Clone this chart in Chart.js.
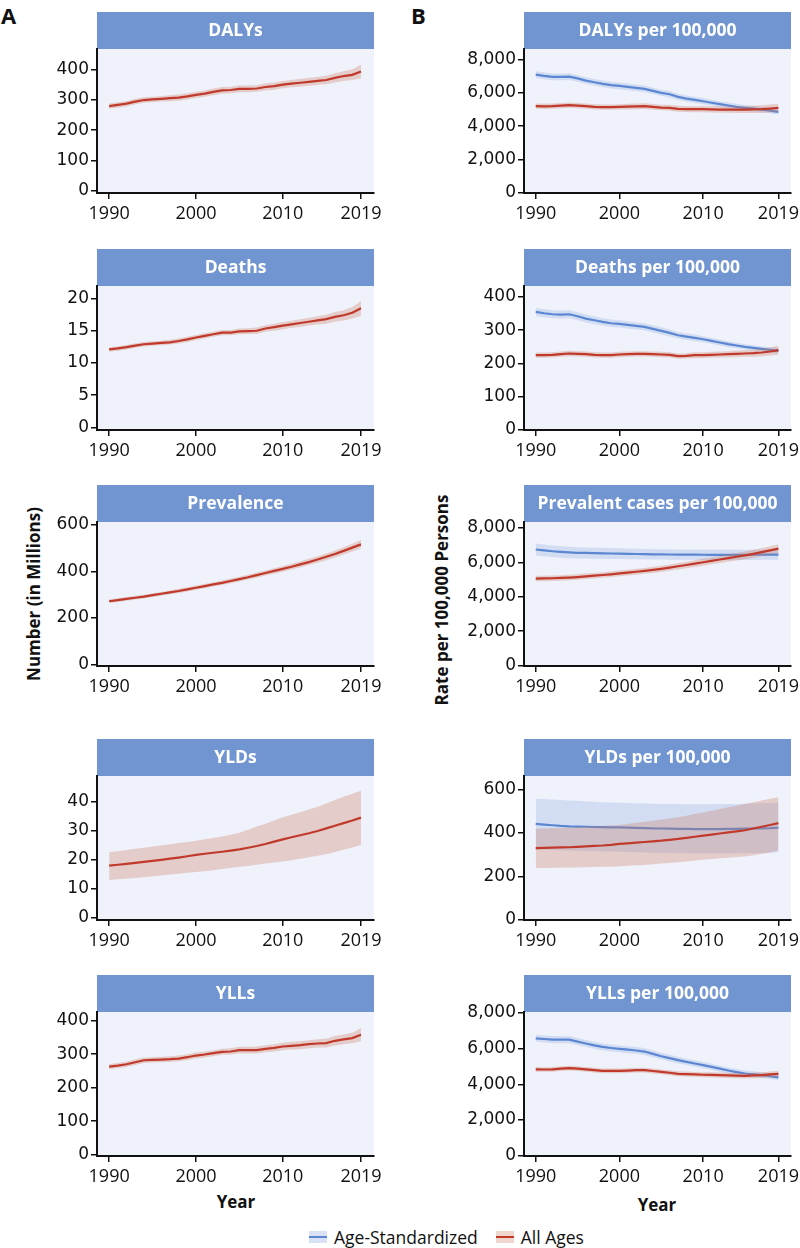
<!DOCTYPE html>
<html>
<head>
<meta charset="utf-8">
<title>Burden trends 1990-2019</title>
<script src="https://cdn.jsdelivr.net/npm/chart.js@4.4.0/dist/chart.umd.min.js"></script>
<style>
  body { margin: 0; background: #fff; font-family: "Open Sans", sans-serif; color: #111; }
  #page { position: relative; width: 800px; height: 1248px; overflow: hidden; }
  #page canvas { position: absolute; }
  .tag { position: absolute; font-weight: bold; font-size: 22px; line-height: 1; }
  .ytitle { position: absolute; font-weight: bold; font-size: 17px; white-space: nowrap;
            transform: translate(-50%, -50%) rotate(-90deg); }
  .xtitle { position: absolute; font-weight: bold; font-size: 17px; transform: translate(-50%, -50%); }
  .legend { position: absolute; top: 1225px; left: 309px; display: flex; align-items: center; font-size: 17.5px; }
  .legend .sw { width: 18px; height: 12px; position: relative; margin-right: 7px; }
  .legend .sw i { position: absolute; left: 0; right: 0; top: 5px; height: 2px; }
  .legend span.item { display: flex; align-items: center; margin-right: 18px; }
</style>
</head>
<body>
<div id="page">
  <div class="tag" style="left:1px; top:4px;">A</div>
  <div class="tag" style="left:411px; top:4px;">B</div>
  <div class="ytitle" style="left:33px; top:594px;">Number (in Millions)</div>
  <div class="ytitle" style="left:441px; top:600px;">Rate per 100,000 Persons</div>
  <div class="xtitle" style="left:236px; top:1201px;">Year</div>
  <div class="xtitle" style="left:657px; top:1204px;">Year</div>
  <div class="legend">
    <span class="item"><span class="sw" style="background:#d9e1f4"><i style="background:#5b86d1"></i></span>Age-Standardized</span>
    <span class="item"><span class="sw" style="background:#efd6cf"><i style="background:#c0392b"></i></span>All Ages</span>
  </div>
</div>
<script>
// years on the x axis
const years = [1990,1991,1992,1993,1994,1995,1996,1997,1998,1999,2000,2001,2002,2003,2004,
               2005,2006,2007,2008,2009,2010,2011,2012,2013,2014,2015,2016,2017,2018,2019];
const xTicks = [1990, 2000, 2010, 2019];

// Panel A - counts, all ages (millions)
const dalysMean = [279,283,287,294,299,301,303,305,307,311,316,320,326,331,332,336,336,337,342,345,350,353,356,359,362,365,372,378,382,393];
const dalysLo   = [270,274,278,285,290,292,294,295,297,301,306,310,315,320,321,325,325,326,330,333,338,341,343,346,349,351,357,362,365,371];
const dalysHi   = [288,292,296,303,308,310,312,315,317,321,326,330,337,342,343,347,347,348,354,357,362,365,369,372,375,379,387,394,400,415];

const deathsMean = [12.1,12.25,12.45,12.7,12.9,13.0,13.1,13.2,13.4,13.65,13.95,14.2,14.45,14.7,14.7,14.9,14.95,15.0,15.35,15.55,15.8,16.0,16.2,16.4,16.6,16.8,17.15,17.4,17.8,18.5];
const deathsLo   = [11.75,11.9,12.1,12.35,12.55,12.65,12.75,12.85,13.0,13.25,13.55,13.8,14.05,14.3,14.3,14.45,14.5,14.5,14.85,15.0,15.25,15.45,15.6,15.8,15.95,16.1,16.4,16.6,16.9,17.3];
const deathsHi   = [12.45,12.6,12.8,13.05,13.25,13.35,13.45,13.6,13.8,14.05,14.35,14.6,14.85,15.1,15.1,15.35,15.4,15.5,15.85,16.1,16.35,16.55,16.8,17.0,17.25,17.5,17.9,18.2,18.7,19.6];

const prevMean = [272,277,282,287,292,298,304,310,316,323,330,337,344,351,359,367,375,384,393,402,411,420,430,440,451,463,475,488,502,516];
const prevLo   = [264,269,274,279,284,290,296,302,307,314,321,328,335,342,349,357,365,373,382,390,399,408,417,427,437,448,460,472,485,498];
const prevHi   = [280,285,290,295,300,306,312,318,325,332,339,346,353,361,369,377,386,395,404,414,423,433,443,454,465,477,490,504,519,535];

const yldsMean = [17.9,18.2,18.5,18.85,19.2,19.55,19.9,20.3,20.7,21.15,21.6,22.0,22.35,22.7,23.1,23.5,24.1,24.7,25.4,26.2,27.0,27.7,28.4,29.1,29.9,30.8,31.7,32.6,33.5,34.5];
const yldsLo   = [12.9,13.2,13.4,13.6,13.9,14.2,14.5,14.8,15.1,15.4,15.7,16.0,16.3,16.7,17.1,17.5,17.8,18.2,18.6,19.0,19.3,19.8,20.3,20.8,21.3,21.8,22.6,23.4,24.2,25.0];
const yldsHi   = [22.5,22.9,23.3,23.7,24.1,24.5,24.9,25.3,25.7,26.1,26.5,27.0,27.5,28.0,28.6,29.3,30.3,31.4,32.4,33.5,34.6,35.5,36.4,37.3,38.3,39.4,40.6,41.7,42.8,43.8];

const yllsMean = [263,266,270,276,282,283,284,285,287,291,296,299,303,307,308,312,312,312,316,319,323,325,327,330,332,333,340,344,348,358];
const yllsLo   = [255,258,262,268,274,275,276,277,279,282,287,290,294,298,299,302,302,302,306,308,312,314,315,318,320,320,326,330,333,339];
const yllsHi   = [271,274,278,284,290,291,292,294,296,300,305,308,312,316,318,322,322,323,327,330,334,337,339,342,345,347,354,359,364,378];

// Panel B - rates per 100,000 (age-standardized and all ages)
const dalysRateAsMean  = [7100,7020,6960,6960,6980,6870,6740,6640,6540,6470,6420,6360,6300,6240,6120,6000,5920,5760,5660,5580,5500,5410,5320,5240,5160,5100,5050,5000,4930,4860];
const dalysRateAsLo    = [6900,6820,6760,6760,6780,6670,6540,6440,6340,6270,6220,6160,6100,6040,5930,5810,5730,5570,5470,5390,5310,5230,5140,5060,4980,4930,4880,4830,4770,4700];
const dalysRateAsHi    = [7300,7220,7160,7160,7180,7070,6940,6840,6740,6670,6620,6560,6500,6440,6310,6190,6110,5950,5850,5770,5690,5590,5500,5420,5340,5270,5220,5170,5090,5020];
const dalysRateAllMean = [5200,5190,5200,5240,5260,5240,5200,5160,5140,5140,5160,5170,5190,5200,5160,5120,5100,5040,5030,5020,5020,5010,5000,5000,4990,5000,5010,5020,5060,5100];
const dalysRateAllLo   = [5040,5030,5040,5080,5100,5080,5040,5000,4980,4980,5000,5000,5020,5030,4990,4950,4920,4860,4850,4840,4830,4820,4810,4800,4790,4790,4790,4790,4820,4850];
const dalysRateAllHi   = [5360,5350,5360,5400,5420,5400,5360,5320,5300,5300,5320,5340,5360,5370,5330,5290,5280,5220,5210,5200,5210,5200,5190,5200,5190,5210,5230,5250,5300,5350];

const deathsRateAsMean  = [355,351,348,347,348,342,335,330,325,321,319,316,313,310,304,298,292,285,281,277,273,268,263,258,254,250,247,244,241,238];
const deathsRateAsLo    = [343,339,336,335,336,330,323,318,314,310,308,305,302,299,293,287,282,275,271,267,264,259,254,249,246,242,239,236,233,229];
const deathsRateAsHi    = [367,363,360,359,360,354,347,342,336,332,330,327,324,321,315,309,302,295,291,287,282,277,272,267,262,258,255,252,249,247];
const deathsRateAllMean = [225,225,226,228,230,229,228,226,225,225,227,228,229,229,228,227,226,222,223,225,225,226,227,228,229,230,231,233,236,240];
const deathsRateAllLo   = [217,217,218,220,222,221,220,218,217,217,219,220,221,221,220,219,218,214,215,216,216,217,218,219,219,220,220,222,224,227];
const deathsRateAllHi   = [233,233,234,236,238,237,236,234,233,233,235,236,237,237,236,235,234,230,231,234,234,235,236,237,239,240,242,244,248,253];

const prevRateAsMean  = [6750,6700,6650,6610,6580,6560,6550,6540,6530,6520,6510,6500,6490,6480,6470,6465,6460,6455,6450,6450,6445,6440,6440,6440,6440,6440,6445,6450,6450,6455];
const prevRateAsLo    = [6400,6355,6310,6275,6250,6235,6228,6220,6213,6205,6198,6190,6182,6175,6168,6164,6160,6156,6152,6152,6148,6145,6145,6145,6145,6145,6148,6150,6150,6152];
const prevRateAsHi    = [7100,7045,6990,6945,6910,6885,6872,6860,6847,6835,6822,6810,6798,6785,6772,6766,6760,6754,6748,6748,6742,6735,6735,6735,6735,6735,6742,6750,6750,6758];
const prevRateAllMean = [5060,5070,5080,5100,5120,5150,5190,5230,5270,5310,5360,5410,5460,5510,5570,5630,5700,5780,5850,5930,6010,6090,6170,6250,6330,6410,6500,6600,6700,6800];
const prevRateAllLo   = [4900,4910,4920,4940,4960,4990,5030,5070,5110,5150,5190,5240,5290,5340,5390,5450,5520,5590,5660,5740,5810,5890,5960,6040,6110,6190,6270,6370,6460,6550];
const prevRateAllHi   = [5220,5230,5240,5260,5280,5310,5350,5390,5430,5470,5530,5580,5630,5680,5750,5810,5880,5970,6040,6120,6210,6290,6380,6460,6550,6630,6730,6830,6940,7050];

const yldsRateAsMean  = [441,438,435,432,430,429,428,427,426,425,425,424,423,422,421,420,419,418,418,417,417,417,417,418,418,419,420,421,422,424];
const yldsRateAsLo    = [323,322,321,320,319,318,317,316,315,314,313,312,311,310,309,308,307,306,306,305,305,305,305,305,306,306,307,308,309,311];
const yldsRateAsHi    = [556,555,553,551,549,547,545,543,541,539,538,537,536,535,534,533,532,532,531,531,531,531,532,532,533,534,535,536,537,539];
const yldsRateAllMean = [330,331,332,333,334,336,338,340,342,345,349,352,355,358,361,364,368,372,377,382,387,392,397,402,407,412,420,428,436,445];
const yldsRateAllLo   = [239,239,240,240,241,241,242,243,244,245,247,249,251,253,256,259,262,265,269,273,277,280,283,286,289,292,297,303,310,320];
const yldsRateAllHi   = [419,420,421,422,424,426,428,430,432,434,436,441,446,451,456,461,466,472,479,486,493,501,509,517,525,533,541,548,556,563];

const yllsRateAsMean  = [6585,6545,6510,6505,6510,6400,6290,6190,6100,6040,5990,5945,5900,5840,5710,5580,5470,5360,5260,5170,5080,4985,4880,4780,4690,4610,4565,4520,4455,4390];
const yllsRateAsLo    = [6385,6345,6310,6305,6310,6200,6095,5995,5905,5845,5795,5750,5705,5645,5520,5390,5285,5175,5080,4990,4900,4810,4710,4610,4520,4445,4400,4360,4295,4230];
const yllsRateAsHi    = [6785,6745,6710,6705,6710,6600,6485,6385,6295,6235,6185,6140,6095,6035,5900,5770,5655,5545,5440,5350,5260,5160,5050,4950,4860,4775,4730,4680,4615,4550];
const yllsRateAllMean = [4840,4835,4840,4880,4910,4880,4840,4800,4760,4755,4760,4775,4800,4800,4750,4705,4650,4590,4575,4560,4540,4530,4515,4500,4490,4480,4500,4520,4555,4590];
const yllsRateAllLo   = [4710,4705,4710,4750,4780,4750,4710,4670,4630,4625,4630,4640,4665,4665,4615,4570,4510,4450,4435,4420,4400,4385,4370,4355,4340,4330,4345,4360,4390,4420];
const yllsRateAllHi   = [4970,4965,4970,5010,5040,5010,4970,4930,4890,4885,4890,4910,4935,4935,4885,4840,4790,4730,4715,4700,4680,4675,4660,4645,4640,4630,4655,4680,4720,4760];

// y tick labels
const ticksDalys  = [0, 100, 200, 300, 400];
const ticksDeaths = [0, 5, 10, 15, 20];
const ticksPrev   = [0, 200, 400, 600];
const ticksYlds   = [0, 10, 20, 30, 40];
const ticksRate8k = [0, 2000, 4000, 6000, 8000];
const ticksRate400 = [0, 100, 200, 300, 400];
const ticksRate600 = [0, 200, 400, 600];

// colours
const RED = '#c0392b';
const RED_BAND = 'rgba(205, 125, 105, 0.32)';
const BLUE = '#5b86d1';
const BLUE_BAND = 'rgba(110, 145, 220, 0.22)';
const HEADER_BG = '#7195d0';
const PLOT_BG = '#eff2fa';
const FONT = '"Open Sans", sans-serif';
const TICK_FONT_Y = '"DejaVu Sans", sans-serif';

// layout (canvas may run past the page edge, the page clips it)
const HEADER_H = 37;
const X_AXIS_H = 34;
const COLS = [
    { canvasLeft: 40, plotLeft: 97, plotRight: 374, padRight: 18 },
    { canvasLeft: 450, plotLeft: 524, plotRight: 791, padRight: 18 }
];
const ROWS = [
    { plotTop: 49, plotBottom: 193 },
    { plotTop: 286, plotBottom: 430 },
    { plotTop: 522, plotBottom: 666 },
    { plotTop: 776, plotBottom: 920 },
    { plotTop: 1012, plotBottom: 1156 }
];

function pts(arr) {
    return arr.map(function(v, i) { return { x: years[i], y: v }; });
}

// three datasets: lower bound, upper bound filled to lower, mean line
function series(lo, hi, mean, line, band, baseOrder) {
    return [
        { data: pts(mean), borderColor: line, borderWidth: 2.2, pointRadius: 0, fill: false, order: baseOrder },
        { data: pts(lo), borderWidth: 0, pointRadius: 0, fill: false, order: baseOrder + 2 },
        { data: pts(hi), borderWidth: 0, pointRadius: 0, backgroundColor: band, fill: '-1', order: baseOrder + 1 }
    ];
}

const panels = [
    { col: 0, row: 0, title: 'DALYs', ticks: ticksDalys, min: -7, max: 467,
      sets: series(dalysLo, dalysHi, dalysMean, RED, RED_BAND, 0) },
    { col: 0, row: 1, title: 'Deaths', ticks: ticksDeaths, min: -0.42, max: 21.95,
      sets: series(deathsLo, deathsHi, deathsMean, RED, RED_BAND, 0) },
    { col: 0, row: 2, title: 'Prevalence', ticks: ticksPrev, min: -6, max: 612,
      sets: series(prevLo, prevHi, prevMean, RED, RED_BAND, 0) },
    { col: 0, row: 3, title: 'YLDs', ticks: ticksYlds, min: -0.9, max: 48.9,
      sets: series(yldsLo, yldsHi, yldsMean, RED, RED_BAND, 0) },
    { col: 0, row: 4, title: 'YLLs', ticks: ticksDalys, min: -4, max: 426,
      sets: series(yllsLo, yllsHi, yllsMean, RED, RED_BAND, 0) },

    { col: 1, row: 0, title: 'DALYs per 100,000', ticks: ticksRate8k, min: -20, max: 8640,
      sets: series(dalysRateAllLo, dalysRateAllHi, dalysRateAllMean, RED, RED_BAND, 0)
          .concat(series(dalysRateAsLo, dalysRateAsHi, dalysRateAsMean, BLUE, BLUE_BAND, 3)) },
    { col: 1, row: 1, title: 'Deaths per 100,000', ticks: ticksRate400, min: 0, max: 433,
      sets: series(deathsRateAllLo, deathsRateAllHi, deathsRateAllMean, RED, RED_BAND, 0)
          .concat(series(deathsRateAsLo, deathsRateAsHi, deathsRateAsMean, BLUE, BLUE_BAND, 3)) },
    { col: 1, row: 2, title: 'Prevalent cases per 100,000', ticks: ticksRate8k, min: -20, max: 8350,
      sets: series(prevRateAllLo, prevRateAllHi, prevRateAllMean, RED, RED_BAND, 0)
          .concat(series(prevRateAsLo, prevRateAsHi, prevRateAsMean, BLUE, BLUE_BAND, 3)) },
    { col: 1, row: 3, title: 'YLDs per 100,000', ticks: ticksRate600, min: 0, max: 661,
      sets: series(yldsRateAllLo, yldsRateAllHi, yldsRateAllMean, RED, RED_BAND, 0)
          .concat(series(yldsRateAsLo, yldsRateAsHi, yldsRateAsMean, BLUE, BLUE_BAND, 3)) },
    { col: 1, row: 4, title: 'YLLs per 100,000', ticks: ticksRate8k, min: -20, max: 8060,
      sets: series(yllsRateAllLo, yllsRateAllHi, yllsRateAllMean, RED, RED_BAND, 0)
          .concat(series(yllsRateAsLo, yllsRateAsHi, yllsRateAsMean, BLUE, BLUE_BAND, 3)) }
];

// plot background + blue title strip above each panel
const panelFrame = {
    id: 'panelFrame',
    beforeDraw: function(chart, args, opts) {
        const a = chart.chartArea;
        const ctx = chart.ctx;
        ctx.save();
        ctx.fillStyle = PLOT_BG;
        ctx.fillRect(a.left, a.top, a.right - a.left, a.bottom - a.top);
        ctx.fillStyle = HEADER_BG;
        ctx.fillRect(a.left, a.top - HEADER_H, a.right - a.left, HEADER_H);
        ctx.fillStyle = '#fff';
        ctx.font = 'bold 17.5px ' + FONT;
        ctx.textAlign = 'center';
        ctx.textBaseline = 'middle';
        ctx.fillText(opts.text, (a.left + a.right) / 2, a.top - HEADER_H / 2 + 1);
        ctx.restore();
    }
};

const page = document.getElementById('page');

panels.forEach(function(p) {
    const c = COLS[p.col];
    const r = ROWS[p.row];
    const padTop = HEADER_H + 6;
    const w = c.plotRight + c.padRight - c.canvasLeft;
    const h = (r.plotBottom - r.plotTop) + padTop + X_AXIS_H;
    const canvas = document.createElement('canvas');
    canvas.width = w;
    canvas.height = h;
    canvas.style.left = c.canvasLeft + 'px';
    canvas.style.top = (r.plotTop - padTop) + 'px';
    canvas.style.width = w + 'px';
    canvas.style.height = h + 'px';
    page.appendChild(canvas);

    const yWidth = c.plotLeft - c.canvasLeft;
    const isRate = p.col === 1;

    new Chart(canvas, {
        type: 'line',
        data: { datasets: p.sets },
        plugins: [panelFrame],
        options: {
            responsive: false,
            animation: false,
            events: [],
            layout: { padding: { top: padTop, right: c.padRight, left: 0, bottom: 0 } },
            plugins: {
                legend: { display: false },
                tooltip: { enabled: false },
                panelFrame: { text: p.title }
            },
            scales: {
                x: {
                    type: 'linear',
                    min: 1988.6,
                    max: 2020.5,
                    afterBuildTicks: function(s) { s.ticks = xTicks.map(function(v) { return { value: v }; }); },
                    afterFit: function(s) { s.height = X_AXIS_H; },
                    grid: { display: true, drawOnChartArea: false, drawTicks: true, tickLength: 6, color: '#111', lineWidth: 1.5 },
                    border: { display: true, color: '#111', width: 2 },
                    ticks: {
                        color: '#111', padding: 4,
                        font: { family: FONT, size: 18 },
                        maxRotation: 0,
                        callback: function(v) { return String(v); }
                    }
                },
                y: {
                    type: 'linear',
                    min: p.min,
                    max: p.max,
                    afterBuildTicks: function(s) { s.ticks = p.ticks.map(function(v) { return { value: v }; }); },
                    afterFit: function(s) { s.width = yWidth; },
                    grid: { display: true, drawOnChartArea: false, drawTicks: true, tickLength: 6, color: '#111', lineWidth: 1.5 },
                    border: { display: true, color: '#111', width: 2 },
                    ticks: {
                        color: '#111', padding: 2,
                        font: { family: TICK_FONT_Y, size: 17 },
                        callback: function(v) { return isRate ? v.toLocaleString('en-US') : String(v); }
                    }
                }
            },
            elements: { line: { tension: 0 } }
        }
    });
});
</script>
</body>
</html>
